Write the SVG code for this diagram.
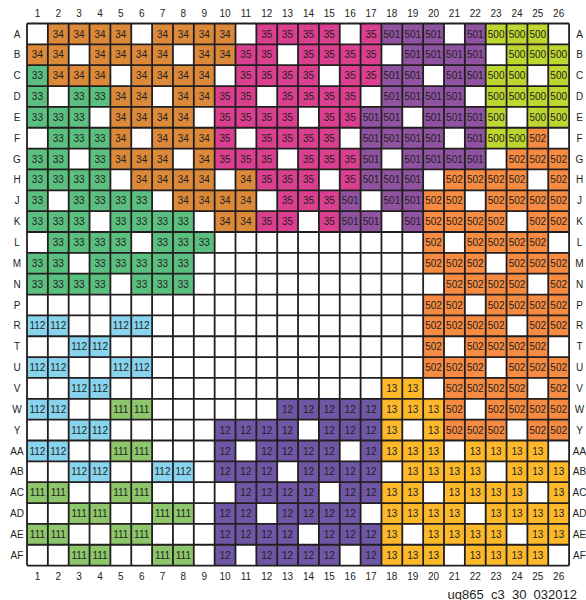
<svg xmlns="http://www.w3.org/2000/svg" xmlns:xlink="http://www.w3.org/1999/xlink" width="586" height="600" viewBox="0 0 586 600">
<style>
text{font-family:"Liberation Sans",Arial,sans-serif;fill:#231f20}
.ct{font-size:10px;text-anchor:middle}
.lb{font-size:10px;text-anchor:middle}
.gl{stroke:#231f20;stroke-width:1.8;fill:none}
</style>
<defs>
<g id="b34"><rect width="20.85" height="20.85" fill="#DC8A3A"/><text class="ct" x="10.43" y="14">34</text></g>
<g id="b35"><rect width="20.85" height="20.85" fill="#DB3F8F"/><text class="ct" x="10.43" y="14">35</text></g>
<g id="b501"><rect width="20.85" height="20.85" fill="#8F53A1"/><text class="ct" x="10.43" y="14">501</text></g>
<g id="b500"><rect width="20.85" height="20.85" fill="#BED630"/><text class="ct" x="10.43" y="14">500</text></g>
<g id="b502"><rect width="20.85" height="20.85" fill="#F68B41"/><text class="ct" x="10.43" y="14">502</text></g>
<g id="b33"><rect width="20.85" height="20.85" fill="#5BBF80"/><text class="ct" x="10.43" y="14">33</text></g>
<g id="b112"><rect width="20.85" height="20.85" fill="#88D4EF"/><text class="ct" x="10.43" y="14">112</text></g>
<g id="b111"><rect width="20.85" height="20.85" fill="#8DC66B"/><text class="ct" x="10.43" y="14">111</text></g>
<g id="b12"><rect width="20.85" height="20.85" fill="#6F57A6"/><text class="ct" x="10.43" y="14">12</text></g>
<g id="b13"><rect width="20.85" height="20.85" fill="#FDB92A"/><text class="ct" x="10.43" y="14">13</text></g>
</defs>
<rect width="586" height="600" fill="#fff"/>

<g id="bank34">
<g transform="translate(0,23.5)"><use href="#b34" x="47.85"/><use href="#b34" x="68.7"/><use href="#b34" x="89.55"/><use href="#b34" x="110.4"/><use href="#b34" x="152.1"/><use href="#b34" x="172.95"/><use href="#b34" x="193.8"/><use href="#b34" x="214.65"/></g>
<g transform="translate(0,44.35)"><use href="#b34" x="27"/><use href="#b34" x="47.85"/><use href="#b34" x="89.55"/><use href="#b34" x="110.4"/><use href="#b34" x="131.25"/><use href="#b34" x="152.1"/><use href="#b34" x="193.8"/><use href="#b34" x="214.65"/></g>
<g transform="translate(0,65.2)"><use href="#b34" x="47.85"/><use href="#b34" x="68.7"/><use href="#b34" x="89.55"/><use href="#b34" x="131.25"/><use href="#b34" x="152.1"/><use href="#b34" x="172.95"/><use href="#b34" x="193.8"/></g>
<g transform="translate(0,86.05)"><use href="#b34" x="110.4"/><use href="#b34" x="131.25"/><use href="#b34" x="172.95"/><use href="#b34" x="193.8"/></g>
<g transform="translate(0,106.9)"><use href="#b34" x="110.4"/><use href="#b34" x="131.25"/><use href="#b34" x="152.1"/><use href="#b34" x="172.95"/></g>
<g transform="translate(0,127.75)"><use href="#b34" x="110.4"/><use href="#b34" x="152.1"/><use href="#b34" x="172.95"/><use href="#b34" x="193.8"/></g>
<g transform="translate(0,148.6)"><use href="#b34" x="110.4"/><use href="#b34" x="131.25"/><use href="#b34" x="152.1"/><use href="#b34" x="193.8"/></g>
<g transform="translate(0,169.45)"><use href="#b34" x="131.25"/><use href="#b34" x="152.1"/><use href="#b34" x="172.95"/><use href="#b34" x="193.8"/><use href="#b34" x="235.5"/></g>
<g transform="translate(0,190.3)"><use href="#b34" x="172.95"/><use href="#b34" x="193.8"/><use href="#b34" x="214.65"/><use href="#b34" x="235.5"/></g>
<g transform="translate(0,211.15)"><use href="#b34" x="214.65"/><use href="#b34" x="235.5"/></g>
</g>

<g id="bank35">
<g transform="translate(0,23.5)"><use href="#b35" x="256.35"/><use href="#b35" x="277.2"/><use href="#b35" x="298.05"/><use href="#b35" x="318.9"/><use href="#b35" x="360.6"/></g>
<g transform="translate(0,44.35)"><use href="#b35" x="235.5"/><use href="#b35" x="256.35"/><use href="#b35" x="298.05"/><use href="#b35" x="318.9"/><use href="#b35" x="339.75"/><use href="#b35" x="360.6"/></g>
<g transform="translate(0,65.2)"><use href="#b35" x="235.5"/><use href="#b35" x="256.35"/><use href="#b35" x="277.2"/><use href="#b35" x="298.05"/><use href="#b35" x="339.75"/><use href="#b35" x="360.6"/></g>
<g transform="translate(0,86.05)"><use href="#b35" x="214.65"/><use href="#b35" x="235.5"/><use href="#b35" x="277.2"/><use href="#b35" x="298.05"/><use href="#b35" x="318.9"/><use href="#b35" x="339.75"/></g>
<g transform="translate(0,106.9)"><use href="#b35" x="214.65"/><use href="#b35" x="235.5"/><use href="#b35" x="256.35"/><use href="#b35" x="277.2"/><use href="#b35" x="318.9"/><use href="#b35" x="339.75"/></g>
<g transform="translate(0,127.75)"><use href="#b35" x="214.65"/><use href="#b35" x="256.35"/><use href="#b35" x="277.2"/><use href="#b35" x="298.05"/><use href="#b35" x="318.9"/></g>
<g transform="translate(0,148.6)"><use href="#b35" x="214.65"/><use href="#b35" x="235.5"/><use href="#b35" x="256.35"/><use href="#b35" x="298.05"/><use href="#b35" x="318.9"/><use href="#b35" x="339.75"/></g>
<g transform="translate(0,169.45)"><use href="#b35" x="256.35"/><use href="#b35" x="277.2"/><use href="#b35" x="298.05"/><use href="#b35" x="339.75"/></g>
<g transform="translate(0,190.3)"><use href="#b35" x="277.2"/><use href="#b35" x="298.05"/><use href="#b35" x="318.9"/></g>
<g transform="translate(0,211.15)"><use href="#b35" x="256.35"/><use href="#b35" x="277.2"/><use href="#b35" x="318.9"/></g>
</g>

<g id="bank501">
<g transform="translate(0,23.5)"><use href="#b501" x="381.45"/><use href="#b501" x="402.3"/><use href="#b501" x="423.15"/><use href="#b501" x="464.85"/></g>
<g transform="translate(0,44.35)"><use href="#b501" x="402.3"/><use href="#b501" x="423.15"/><use href="#b501" x="444"/><use href="#b501" x="464.85"/></g>
<g transform="translate(0,65.2)"><use href="#b501" x="381.45"/><use href="#b501" x="402.3"/><use href="#b501" x="444"/><use href="#b501" x="464.85"/></g>
<g transform="translate(0,86.05)"><use href="#b501" x="381.45"/><use href="#b501" x="402.3"/><use href="#b501" x="423.15"/><use href="#b501" x="444"/></g>
<g transform="translate(0,106.9)"><use href="#b501" x="360.6"/><use href="#b501" x="381.45"/><use href="#b501" x="423.15"/><use href="#b501" x="444"/><use href="#b501" x="464.85"/></g>
<g transform="translate(0,127.75)"><use href="#b501" x="360.6"/><use href="#b501" x="381.45"/><use href="#b501" x="402.3"/><use href="#b501" x="423.15"/><use href="#b501" x="464.85"/></g>
<g transform="translate(0,148.6)"><use href="#b501" x="360.6"/><use href="#b501" x="402.3"/><use href="#b501" x="423.15"/><use href="#b501" x="444"/><use href="#b501" x="464.85"/></g>
<g transform="translate(0,169.45)"><use href="#b501" x="360.6"/><use href="#b501" x="381.45"/><use href="#b501" x="402.3"/></g>
<g transform="translate(0,190.3)"><use href="#b501" x="339.75"/><use href="#b501" x="381.45"/><use href="#b501" x="402.3"/></g>
<g transform="translate(0,211.15)"><use href="#b501" x="339.75"/><use href="#b501" x="360.6"/><use href="#b501" x="402.3"/></g>
</g>

<g id="bank500">
<g transform="translate(0,23.5)"><use href="#b500" x="485.7"/><use href="#b500" x="506.55"/><use href="#b500" x="527.4"/></g>
<g transform="translate(0,44.35)"><use href="#b500" x="506.55"/><use href="#b500" x="527.4"/><use href="#b500" x="548.25"/></g>
<g transform="translate(0,65.2)"><use href="#b500" x="485.7"/><use href="#b500" x="506.55"/><use href="#b500" x="548.25"/></g>
<g transform="translate(0,86.05)"><use href="#b500" x="485.7"/><use href="#b500" x="506.55"/><use href="#b500" x="527.4"/><use href="#b500" x="548.25"/></g>
<g transform="translate(0,106.9)"><use href="#b500" x="485.7"/><use href="#b500" x="527.4"/><use href="#b500" x="548.25"/></g>
<g transform="translate(0,127.75)"><use href="#b500" x="485.7"/><use href="#b500" x="506.55"/></g>
</g>

<g id="bank502">
<g transform="translate(0,127.75)"><use href="#b502" x="527.4"/></g>
<g transform="translate(0,148.6)"><use href="#b502" x="506.55"/><use href="#b502" x="527.4"/><use href="#b502" x="548.25"/></g>
<g transform="translate(0,169.45)"><use href="#b502" x="444"/><use href="#b502" x="464.85"/><use href="#b502" x="485.7"/><use href="#b502" x="506.55"/><use href="#b502" x="548.25"/></g>
<g transform="translate(0,190.3)"><use href="#b502" x="423.15"/><use href="#b502" x="444"/><use href="#b502" x="485.7"/><use href="#b502" x="506.55"/><use href="#b502" x="527.4"/><use href="#b502" x="548.25"/></g>
<g transform="translate(0,211.15)"><use href="#b502" x="423.15"/><use href="#b502" x="444"/><use href="#b502" x="464.85"/><use href="#b502" x="485.7"/><use href="#b502" x="527.4"/><use href="#b502" x="548.25"/></g>
<g transform="translate(0,232)"><use href="#b502" x="423.15"/><use href="#b502" x="464.85"/><use href="#b502" x="485.7"/><use href="#b502" x="506.55"/><use href="#b502" x="527.4"/></g>
<g transform="translate(0,252.85)"><use href="#b502" x="423.15"/><use href="#b502" x="444"/><use href="#b502" x="464.85"/><use href="#b502" x="506.55"/><use href="#b502" x="527.4"/><use href="#b502" x="548.25"/></g>
<g transform="translate(0,273.7)"><use href="#b502" x="444"/><use href="#b502" x="464.85"/><use href="#b502" x="485.7"/><use href="#b502" x="506.55"/><use href="#b502" x="548.25"/></g>
<g transform="translate(0,294.55)"><use href="#b502" x="423.15"/><use href="#b502" x="444"/><use href="#b502" x="485.7"/><use href="#b502" x="506.55"/><use href="#b502" x="527.4"/><use href="#b502" x="548.25"/></g>
<g transform="translate(0,315.4)"><use href="#b502" x="423.15"/><use href="#b502" x="444"/><use href="#b502" x="464.85"/><use href="#b502" x="485.7"/><use href="#b502" x="527.4"/><use href="#b502" x="548.25"/></g>
<g transform="translate(0,336.25)"><use href="#b502" x="423.15"/><use href="#b502" x="464.85"/><use href="#b502" x="485.7"/><use href="#b502" x="506.55"/><use href="#b502" x="527.4"/></g>
<g transform="translate(0,357.1)"><use href="#b502" x="423.15"/><use href="#b502" x="444"/><use href="#b502" x="464.85"/><use href="#b502" x="506.55"/><use href="#b502" x="527.4"/><use href="#b502" x="548.25"/></g>
<g transform="translate(0,377.95)"><use href="#b502" x="444"/><use href="#b502" x="464.85"/><use href="#b502" x="485.7"/><use href="#b502" x="506.55"/><use href="#b502" x="548.25"/></g>
<g transform="translate(0,398.8)"><use href="#b502" x="444"/><use href="#b502" x="485.7"/><use href="#b502" x="506.55"/><use href="#b502" x="527.4"/><use href="#b502" x="548.25"/></g>
<g transform="translate(0,419.65)"><use href="#b502" x="444"/><use href="#b502" x="464.85"/><use href="#b502" x="485.7"/><use href="#b502" x="527.4"/><use href="#b502" x="548.25"/></g>
</g>

<g id="bank33">
<g transform="translate(0,65.2)"><use href="#b33" x="27"/></g>
<g transform="translate(0,86.05)"><use href="#b33" x="27"/><use href="#b33" x="68.7"/><use href="#b33" x="89.55"/></g>
<g transform="translate(0,106.9)"><use href="#b33" x="27"/><use href="#b33" x="47.85"/><use href="#b33" x="68.7"/></g>
<g transform="translate(0,127.75)"><use href="#b33" x="47.85"/><use href="#b33" x="68.7"/><use href="#b33" x="89.55"/></g>
<g transform="translate(0,148.6)"><use href="#b33" x="27"/><use href="#b33" x="47.85"/><use href="#b33" x="89.55"/></g>
<g transform="translate(0,169.45)"><use href="#b33" x="27"/><use href="#b33" x="47.85"/><use href="#b33" x="68.7"/><use href="#b33" x="89.55"/></g>
<g transform="translate(0,190.3)"><use href="#b33" x="27"/><use href="#b33" x="68.7"/><use href="#b33" x="89.55"/><use href="#b33" x="110.4"/><use href="#b33" x="131.25"/></g>
<g transform="translate(0,211.15)"><use href="#b33" x="27"/><use href="#b33" x="47.85"/><use href="#b33" x="68.7"/><use href="#b33" x="110.4"/><use href="#b33" x="131.25"/><use href="#b33" x="152.1"/><use href="#b33" x="172.95"/></g>
<g transform="translate(0,232)"><use href="#b33" x="47.85"/><use href="#b33" x="68.7"/><use href="#b33" x="89.55"/><use href="#b33" x="110.4"/><use href="#b33" x="152.1"/><use href="#b33" x="172.95"/><use href="#b33" x="193.8"/></g>
<g transform="translate(0,252.85)"><use href="#b33" x="27"/><use href="#b33" x="47.85"/><use href="#b33" x="89.55"/><use href="#b33" x="110.4"/><use href="#b33" x="131.25"/><use href="#b33" x="152.1"/><use href="#b33" x="172.95"/></g>
<g transform="translate(0,273.7)"><use href="#b33" x="27"/><use href="#b33" x="47.85"/><use href="#b33" x="68.7"/><use href="#b33" x="89.55"/><use href="#b33" x="131.25"/><use href="#b33" x="152.1"/><use href="#b33" x="172.95"/></g>
</g>

<g id="bank112">
<g transform="translate(0,315.4)"><use href="#b112" x="27"/><use href="#b112" x="47.85"/><use href="#b112" x="110.4"/><use href="#b112" x="131.25"/></g>
<g transform="translate(0,336.25)"><use href="#b112" x="68.7"/><use href="#b112" x="89.55"/></g>
<g transform="translate(0,357.1)"><use href="#b112" x="27"/><use href="#b112" x="47.85"/><use href="#b112" x="110.4"/><use href="#b112" x="131.25"/></g>
<g transform="translate(0,377.95)"><use href="#b112" x="68.7"/><use href="#b112" x="89.55"/></g>
<g transform="translate(0,398.8)"><use href="#b112" x="27"/><use href="#b112" x="47.85"/></g>
<g transform="translate(0,419.65)"><use href="#b112" x="68.7"/><use href="#b112" x="89.55"/></g>
<g transform="translate(0,440.5)"><use href="#b112" x="27"/><use href="#b112" x="47.85"/></g>
<g transform="translate(0,461.35)"><use href="#b112" x="68.7"/><use href="#b112" x="89.55"/><use href="#b112" x="152.1"/><use href="#b112" x="172.95"/></g>
</g>

<g id="bank111">
<g transform="translate(0,398.8)"><use href="#b111" x="110.4"/><use href="#b111" x="131.25"/></g>
<g transform="translate(0,440.5)"><use href="#b111" x="110.4"/><use href="#b111" x="131.25"/></g>
<g transform="translate(0,482.2)"><use href="#b111" x="27"/><use href="#b111" x="47.85"/><use href="#b111" x="110.4"/><use href="#b111" x="131.25"/></g>
<g transform="translate(0,503.05)"><use href="#b111" x="68.7"/><use href="#b111" x="89.55"/><use href="#b111" x="152.1"/><use href="#b111" x="172.95"/></g>
<g transform="translate(0,523.9)"><use href="#b111" x="27"/><use href="#b111" x="47.85"/><use href="#b111" x="110.4"/><use href="#b111" x="131.25"/></g>
<g transform="translate(0,544.75)"><use href="#b111" x="68.7"/><use href="#b111" x="89.55"/><use href="#b111" x="152.1"/><use href="#b111" x="172.95"/></g>
</g>

<g id="bank12">
<g transform="translate(0,398.8)"><use href="#b12" x="277.2"/><use href="#b12" x="298.05"/><use href="#b12" x="318.9"/><use href="#b12" x="339.75"/><use href="#b12" x="360.6"/></g>
<g transform="translate(0,419.65)"><use href="#b12" x="214.65"/><use href="#b12" x="235.5"/><use href="#b12" x="256.35"/><use href="#b12" x="277.2"/><use href="#b12" x="318.9"/><use href="#b12" x="339.75"/><use href="#b12" x="360.6"/></g>
<g transform="translate(0,440.5)"><use href="#b12" x="214.65"/><use href="#b12" x="256.35"/><use href="#b12" x="277.2"/><use href="#b12" x="298.05"/><use href="#b12" x="318.9"/><use href="#b12" x="360.6"/></g>
<g transform="translate(0,461.35)"><use href="#b12" x="214.65"/><use href="#b12" x="235.5"/><use href="#b12" x="256.35"/><use href="#b12" x="298.05"/><use href="#b12" x="318.9"/><use href="#b12" x="339.75"/><use href="#b12" x="360.6"/></g>
<g transform="translate(0,482.2)"><use href="#b12" x="235.5"/><use href="#b12" x="256.35"/><use href="#b12" x="277.2"/><use href="#b12" x="298.05"/><use href="#b12" x="339.75"/><use href="#b12" x="360.6"/></g>
<g transform="translate(0,503.05)"><use href="#b12" x="214.65"/><use href="#b12" x="235.5"/><use href="#b12" x="277.2"/><use href="#b12" x="298.05"/><use href="#b12" x="318.9"/><use href="#b12" x="339.75"/></g>
<g transform="translate(0,523.9)"><use href="#b12" x="214.65"/><use href="#b12" x="235.5"/><use href="#b12" x="256.35"/><use href="#b12" x="277.2"/><use href="#b12" x="318.9"/><use href="#b12" x="339.75"/><use href="#b12" x="360.6"/></g>
<g transform="translate(0,544.75)"><use href="#b12" x="214.65"/><use href="#b12" x="256.35"/><use href="#b12" x="277.2"/><use href="#b12" x="298.05"/><use href="#b12" x="318.9"/><use href="#b12" x="360.6"/></g>
</g>

<g id="bank13">
<g transform="translate(0,377.95)"><use href="#b13" x="381.45"/><use href="#b13" x="402.3"/></g>
<g transform="translate(0,398.8)"><use href="#b13" x="381.45"/><use href="#b13" x="402.3"/><use href="#b13" x="423.15"/></g>
<g transform="translate(0,419.65)"><use href="#b13" x="381.45"/><use href="#b13" x="423.15"/></g>
<g transform="translate(0,440.5)"><use href="#b13" x="381.45"/><use href="#b13" x="402.3"/><use href="#b13" x="423.15"/><use href="#b13" x="464.85"/><use href="#b13" x="485.7"/><use href="#b13" x="506.55"/><use href="#b13" x="527.4"/></g>
<g transform="translate(0,461.35)"><use href="#b13" x="402.3"/><use href="#b13" x="423.15"/><use href="#b13" x="444"/><use href="#b13" x="464.85"/><use href="#b13" x="506.55"/><use href="#b13" x="527.4"/><use href="#b13" x="548.25"/></g>
<g transform="translate(0,482.2)"><use href="#b13" x="381.45"/><use href="#b13" x="402.3"/><use href="#b13" x="444"/><use href="#b13" x="464.85"/><use href="#b13" x="485.7"/><use href="#b13" x="506.55"/><use href="#b13" x="548.25"/></g>
<g transform="translate(0,503.05)"><use href="#b13" x="381.45"/><use href="#b13" x="402.3"/><use href="#b13" x="423.15"/><use href="#b13" x="444"/><use href="#b13" x="485.7"/><use href="#b13" x="506.55"/><use href="#b13" x="527.4"/><use href="#b13" x="548.25"/></g>
<g transform="translate(0,523.9)"><use href="#b13" x="381.45"/><use href="#b13" x="423.15"/><use href="#b13" x="444"/><use href="#b13" x="464.85"/><use href="#b13" x="485.7"/><use href="#b13" x="527.4"/><use href="#b13" x="548.25"/></g>
<g transform="translate(0,544.75)"><use href="#b13" x="381.45"/><use href="#b13" x="402.3"/><use href="#b13" x="423.15"/><use href="#b13" x="464.85"/><use href="#b13" x="485.7"/><use href="#b13" x="506.55"/><use href="#b13" x="527.4"/></g>
</g>

<g id="gridlines" class="gl">
<path d="M27 23.5V565.6M47.85 23.5V565.6M68.7 23.5V565.6M89.55 23.5V565.6M110.4 23.5V565.6M131.25 23.5V565.6M152.1 23.5V565.6M172.95 23.5V565.6M193.8 23.5V565.6M214.65 23.5V565.6M235.5 23.5V565.6M256.35 23.5V565.6M277.2 23.5V565.6M298.05 23.5V565.6M318.9 23.5V565.6M339.75 23.5V565.6M360.6 23.5V565.6M381.45 23.5V565.6M402.3 23.5V565.6M423.15 23.5V565.6M444 23.5V565.6M464.85 23.5V565.6M485.7 23.5V565.6M506.55 23.5V565.6M527.4 23.5V565.6M548.25 23.5V565.6M569.1 23.5V565.6"/>
<path d="M27 23.5H569.1M27 44.35H569.1M27 65.2H569.1M27 86.05H569.1M27 106.9H569.1M27 127.75H569.1M27 148.6H569.1M27 169.45H569.1M27 190.3H569.1M27 211.15H569.1M27 232H569.1M27 252.85H569.1M27 273.7H569.1M27 294.55H569.1M27 315.4H569.1M27 336.25H569.1M27 357.1H569.1M27 377.95H569.1M27 398.8H569.1M27 419.65H569.1M27 440.5H569.1M27 461.35H569.1M27 482.2H569.1M27 503.05H569.1M27 523.9H569.1M27 544.75H569.1M27 565.6H569.1"/>
</g>

<g id="col-labels-top" class="lb">
<text class="lb" x="37.43" y="16.5">1</text><text class="lb" x="58.28" y="16.5">2</text><text class="lb" x="79.13" y="16.5">3</text><text class="lb" x="99.98" y="16.5">4</text><text class="lb" x="120.83" y="16.5">5</text><text class="lb" x="141.68" y="16.5">6</text><text class="lb" x="162.53" y="16.5">7</text><text class="lb" x="183.38" y="16.5">8</text><text class="lb" x="204.23" y="16.5">9</text><text class="lb" x="225.08" y="16.5">10</text><text class="lb" x="245.93" y="16.5">11</text><text class="lb" x="266.78" y="16.5">12</text><text class="lb" x="287.63" y="16.5">13</text><text class="lb" x="308.48" y="16.5">14</text><text class="lb" x="329.33" y="16.5">15</text><text class="lb" x="350.18" y="16.5">16</text><text class="lb" x="371.03" y="16.5">17</text><text class="lb" x="391.88" y="16.5">18</text><text class="lb" x="412.73" y="16.5">19</text><text class="lb" x="433.58" y="16.5">20</text><text class="lb" x="454.43" y="16.5">21</text><text class="lb" x="475.28" y="16.5">22</text><text class="lb" x="496.13" y="16.5">23</text><text class="lb" x="516.98" y="16.5">24</text><text class="lb" x="537.83" y="16.5">25</text><text class="lb" x="558.68" y="16.5">26</text>
</g>
<g id="col-labels-bottom">
<text class="lb" x="37.43" y="580">1</text><text class="lb" x="58.28" y="580">2</text><text class="lb" x="79.13" y="580">3</text><text class="lb" x="99.98" y="580">4</text><text class="lb" x="120.83" y="580">5</text><text class="lb" x="141.68" y="580">6</text><text class="lb" x="162.53" y="580">7</text><text class="lb" x="183.38" y="580">8</text><text class="lb" x="204.23" y="580">9</text><text class="lb" x="225.08" y="580">10</text><text class="lb" x="245.93" y="580">11</text><text class="lb" x="266.78" y="580">12</text><text class="lb" x="287.63" y="580">13</text><text class="lb" x="308.48" y="580">14</text><text class="lb" x="329.33" y="580">15</text><text class="lb" x="350.18" y="580">16</text><text class="lb" x="371.03" y="580">17</text><text class="lb" x="391.88" y="580">18</text><text class="lb" x="412.73" y="580">19</text><text class="lb" x="433.58" y="580">20</text><text class="lb" x="454.43" y="580">21</text><text class="lb" x="475.28" y="580">22</text><text class="lb" x="496.13" y="580">23</text><text class="lb" x="516.98" y="580">24</text><text class="lb" x="537.83" y="580">25</text><text class="lb" x="558.68" y="580">26</text>
</g>
<g id="row-labels-left">
<text class="lb" x="17" y="37.5">A</text><text class="lb" x="17" y="58.3">B</text><text class="lb" x="17" y="79.2">C</text><text class="lb" x="17" y="100">D</text><text class="lb" x="17" y="120.9">E</text><text class="lb" x="17" y="141.7">F</text><text class="lb" x="17" y="162.6">G</text><text class="lb" x="17" y="183.4">H</text><text class="lb" x="17" y="204.3">J</text><text class="lb" x="17" y="225.1">K</text><text class="lb" x="17" y="246">L</text><text class="lb" x="17" y="266.8">M</text><text class="lb" x="17" y="287.7">N</text><text class="lb" x="17" y="308.5">P</text><text class="lb" x="17" y="329.4">R</text><text class="lb" x="17" y="350.2">T</text><text class="lb" x="17" y="371.1">U</text><text class="lb" x="17" y="391.9">V</text><text class="lb" x="17" y="412.8">W</text><text class="lb" x="17" y="433.6">Y</text><text class="lb" x="17" y="454.5">AA</text><text class="lb" x="17" y="475.3">AB</text><text class="lb" x="17" y="496.2">AC</text><text class="lb" x="17" y="517">AD</text><text class="lb" x="17" y="537.9">AE</text><text class="lb" x="17" y="558.7">AF</text>
</g>
<g id="row-labels-right">
<text class="lb" x="579.5" y="37.5">A</text><text class="lb" x="579.5" y="58.3">B</text><text class="lb" x="579.5" y="79.2">C</text><text class="lb" x="579.5" y="100">D</text><text class="lb" x="579.5" y="120.9">E</text><text class="lb" x="579.5" y="141.7">F</text><text class="lb" x="579.5" y="162.6">G</text><text class="lb" x="579.5" y="183.4">H</text><text class="lb" x="579.5" y="204.3">J</text><text class="lb" x="579.5" y="225.1">K</text><text class="lb" x="579.5" y="246">L</text><text class="lb" x="579.5" y="266.8">M</text><text class="lb" x="579.5" y="287.7">N</text><text class="lb" x="579.5" y="308.5">P</text><text class="lb" x="579.5" y="329.4">R</text><text class="lb" x="579.5" y="350.2">T</text><text class="lb" x="579.5" y="371.1">U</text><text class="lb" x="579.5" y="391.9">V</text><text class="lb" x="579.5" y="412.8">W</text><text class="lb" x="579.5" y="433.6">Y</text><text class="lb" x="579.5" y="454.5">AA</text><text class="lb" x="579.5" y="475.3">AB</text><text class="lb" x="579.5" y="496.2">AC</text><text class="lb" x="579.5" y="517">AD</text><text class="lb" x="579.5" y="537.9">AE</text><text class="lb" x="579.5" y="558.7">AF</text>
</g>
<text id="figure-id" x="577" y="599" style="font-size:13px;text-anchor:end">ug865_c3_30_032012</text>
</svg>
